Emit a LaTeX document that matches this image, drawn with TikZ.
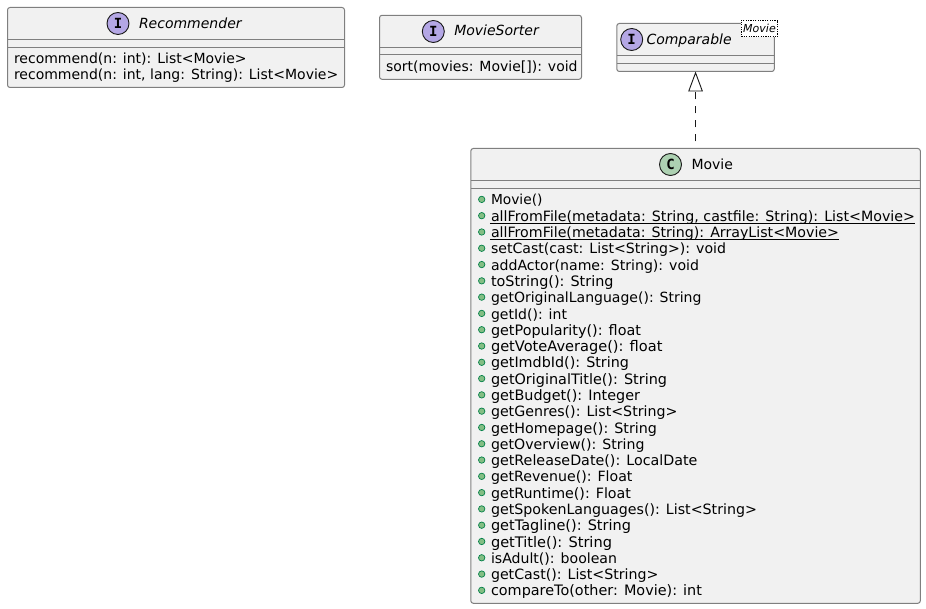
\documentclass[tikz,border=0pt]{standalone}
\usepackage{fontspec}
\usepackage{graphicx}
\setmainfont{DejaVu Sans}
\newfontfamily\iconfont{DejaVu Sans Mono}
\usetikzlibrary{arrows.meta}
\definecolor{boxfill}{HTML}{F1F1F1}
\definecolor{boxline}{HTML}{7F7F7F}
\definecolor{ink}{HTML}{181818}
\definecolor{ifacefill}{HTML}{B4A7E5}
\definecolor{classfill}{HTML}{ADD1B2}
\definecolor{bulletfill}{HTML}{84BE84}
\definecolor{bulletline}{HTML}{038048}
\newcommand{\umlfont}{\fontsize{14}{16}\selectfont}
\newcommand{\ulined}[1]{\setbox0=\hbox{#1}\rlap{\hspace{-1pt}\rule[-2.4pt]{\dimexpr\wd0+1pt\relax}{.9pt}}\box0 }
\tikzset{
  x=1pt,y=-1pt,
  umlbox/.style={draw=boxline,fill=boxfill,line width=1pt,rounded corners=2.5pt,inner sep=0pt,outer sep=0pt,anchor=north west},
  sepline/.style={draw=boxline,line width=1pt},
  txt/.style={inner sep=0pt,outer sep=0pt,anchor=base west,font=\umlfont,text=black},
  ititle/.style={txt,font=\umlfont\itshape},
  badge/.style={circle,draw=ink,line width=.9pt,minimum size=22pt,inner sep=0pt,font=\iconfont\bfseries\fontsize{14}{14}\selectfont,text=black},
  ibadge/.style={badge,fill=ifacefill},
  cbadge/.style={badge,fill=classfill},
  bullet/.style={circle,draw=bulletline,fill=bulletfill,line width=.7pt,minimum size=6.4pt,inner sep=0pt},
  stereo/.style={draw=black,fill=white,dash pattern=on 1.2pt off 1.2pt,line width=.8pt,inner sep=0pt,outer sep=0pt,minimum width=36.4pt,minimum height=16.6pt,font=\fontsize{11}{12}\selectfont\itshape},
  realize/.style={draw=ink,line width=.9pt,dash pattern=on 7pt off 7pt,dash phase=7pt,-{Triangle[open,length=20pt,width=14.6pt,fill=white,line width=.9pt,sep=0pt]}},
}
\begin{document}
\begin{tikzpicture}
\useasboundingbox (0,0) rectangle (926,609);
% Recommender
\node[umlbox,minimum width=337pt,minimum height=80pt] (rec) at (7.5,7.5) {};
\draw[sepline] (rec.west |- 0,39.5) -- (rec.east |- 0,39.5) (rec.west |- 0,47.5) -- (rec.east |- 0,47.5);
\node[ibadge] (recb) at (118,23.5) {I};
\node[ititle] (rect) at (139,28.3) {Recommender};
\node[txt] (rec1) at (14,64) {recommend(n: int): List<Movie>};
\node[txt] (rec2) at (14,79.8) {recommend(n: int, lang: String): List<Movie>};
% MovieSorter
\node[umlbox,minimum width=202pt,minimum height=64pt] (sor) at (379.5,15.3) {};
\draw[sepline] (sor.west |- 0,47.3) -- (sor.east |- 0,47.3) (sor.west |- 0,55) -- (sor.east |- 0,55);
\node[ibadge] (sorb) at (433.3,31.5) {I};
\node[ititle] (sort) at (454.3,36) {MovieSorter};
\node[txt] (sor1) at (386,71.8) {sort(movies: Movie[]): void};
% Comparable
\node[umlbox,minimum width=157.5pt,minimum height=48pt] (comp) at (616.8,23.5) {};
\draw[sepline] (comp.west |- 0,55.4) -- (comp.east |- 0,55.4) (comp.west |- 0,63.4) -- (comp.east |- 0,63.4);
\node[ibadge] (compb) at (631.7,39.5) {I};
\node[ititle] (compt) at (646.5,44.3) {Comparable};
\node[stereo] (compm) at (759.5,28.3) {Movie};
% Movie
\node[umlbox,minimum width=449.5pt,minimum height=454.8pt] (mov) at (470.8,148.5) {};
\draw[sepline] (mov.west |- 0,180.5) -- (mov.east |- 0,180.5) (mov.west |- 0,188.5) -- (mov.east |- 0,188.5);
\node[cbadge] (movb) at (670.5,164.5) {C};
\node[txt] (movt) at (691.5,169.3) {Movie};
\draw[realize] (mov.north -| comp.south) -- (comp.south);
\foreach \i/\w/\s in {
 0/51.5/{Movie()},
 1/424/{\ulined{allFromFile(metadata: String, castfile: String): List<Movie>}},
 2/348/{\ulined{allFromFile(metadata: String): ArrayList<Movie>}},
 3/235/{setCast(cast: List<String>): void},
 4/208/{addActor(name: String): void},
 5/122.5/{toString(): String},
 6/210.5/{getOriginalLanguage(): String},
 7/76/{getId(): int},
 8/150/{getPopularity(): float},
 9/171.5/{getVoteAverage(): float},
 10/138/{getImdbId(): String},
 11/176/{getOriginalTitle(): String},
 12/149/{getBudget(): Integer},
 13/186.5/{getGenres(): List<String>},
 14/166/{getHomepage(): String},
 15/153.5/{getOverview(): String},
 16/206.5/{getReleaseDate(): LocalDate},
 17/141.5/{getRevenue(): Float},
 18/140/{getRuntime(): Float},
 19/266/{getSpokenLanguages(): List<String>},
 20/140/{getTagline(): String},
 21/121/{getTitle(): String},
 22/126/{isAdult(): boolean},
 23/167.5/{getCast(): List<String>},
 24/211/{compareTo(other: Movie): int}}{
  \node[bullet] (b\i) at (481.7,{199.4+16.29*\i}) {};
  \node[txt] (m\i) at (491,{205+16.29*\i}) {\resizebox{\w pt}{!}{\s}};
}
\end{tikzpicture}
\end{document}
